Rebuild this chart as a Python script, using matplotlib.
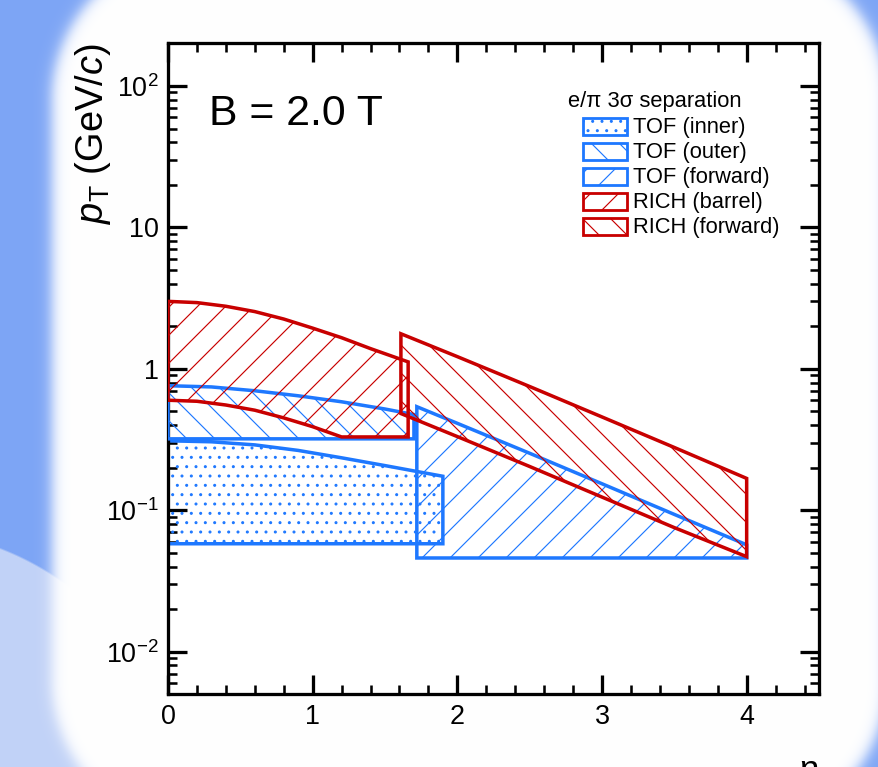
import numpy as np
import matplotlib
matplotlib.use("Agg")
import matplotlib.pyplot as plt
from matplotlib.patches import Rectangle
from matplotlib.transforms import Affine2D
from matplotlib.ticker import LogLocator, MultipleLocator, NullFormatter

plt.rcParams["font.family"] = ["Liberation Sans", "DejaVu Sans"]
plt.rcParams["mathtext.fontset"] = "custom"
plt.rcParams["mathtext.rm"] = "Liberation Sans"
plt.rcParams["mathtext.it"] = "Liberation Sans:italic"
plt.rcParams["hatch.linewidth"] = 0.5

W, H, DPI = 879, 767, 168
BLUE = "#1e78ff"; RED = "#c80000"

# band edges (eta, upper pT, lower pT)
TOF_IN_ETA = [0.0, 0.3, 0.6, 0.9, 1.2, 1.5, 1.9]
TOF_IN_HI = [0.31, 0.305, 0.29, 0.265, 0.235, 0.207, 0.174]
TOF_IN_LO = [0.058, 0.058, 0.058, 0.058, 0.058, 0.058, 0.058]

TOF_OUT_ETA = [0.0, 0.3, 0.6, 0.9, 1.2, 1.5, 1.70]
TOF_OUT_HI = [0.76, 0.745, 0.70, 0.645, 0.585, 0.52, 0.475]
TOF_OUT_LO = [0.32, 0.32, 0.32, 0.32, 0.32, 0.32, 0.32]

TOF_FWD_ETA = [1.72, 2.0, 2.5, 3.0, 3.5, 4.0]
TOF_FWD_HI = [0.54, 0.412, 0.253, 0.154, 0.0935, 0.057]
TOF_FWD_LO = [0.046, 0.046, 0.046, 0.046, 0.046, 0.046]

RICH_BAR_ETA = [0.0, 0.2, 0.4, 0.6, 0.8, 1.0, 1.2, 1.4, 1.66]
RICH_BAR_HI = [3.0, 2.94, 2.77, 2.54, 2.25, 1.94, 1.66, 1.39, 1.12]
RICH_BAR_LO = [0.60, 0.59, 0.555, 0.51, 0.45, 0.39, 0.33, 0.33, 0.33]

RICH_FWD_ETA = [1.61, 2.0, 2.5, 3.0, 3.5, 4.0]
RICH_FWD_HI = [1.77, 1.22, 0.75, 0.457, 0.278, 0.168]
RICH_FWD_LO = [0.483, 0.332, 0.204, 0.124, 0.0754, 0.047]

LEG_LABELS = ["TOF (inner)", "TOF (outer)", "TOF (forward)", "RICH (barrel)", "RICH (forward)"]
LEG_COLORS = [BLUE, BLUE, BLUE, RED, RED]
LEG_HATCH = ["...", "\\\\", "//", "//", "\\\\"]

YTICKS = [0.01, 0.1, 1, 10, 100]
YTICKLABELS = [r"$\mathregular{10^{-2}}$", r"$\mathregular{10^{-1}}$", "1", "10", r"$\mathregular{10^{2}}$"]


def background():
    yy, xx = np.mgrid[0:H, 0:W] + 0.5
    blue = np.array([125, 165, 245]) / 255; light = np.array([193, 210, 247]) / 255
    img = np.ones((H, W, 3)) * blue
    dc = np.hypot(xx + 100, yy - 810) - 280
    al = np.clip(0.5 - dc / 2, 0, 1)[..., None]
    img = img * (1 - al) + light * al
    cx, cy, hx, hy, r = 469.5, 390, 417.5, 440, 150
    qx = np.abs(xx - cx) - (hx - r); qy = np.abs(yy - cy) - (hy - r)
    d = np.hypot(np.maximum(qx, 0), np.maximum(qy, 0)) + np.minimum(np.maximum(qx, qy), 0) - r
    aw = (1 / (1 + np.exp(d / 4)))[..., None]
    return img * (1 - aw) + aw


fig = plt.figure(figsize=(W / DPI, H / DPI), dpi=DPI)
fig.figimage(background(), xo=0, yo=0, origin="upper", zorder=-5)
ax = fig.add_axes([168 / W, (H - 694.3) / H, 651 / W, 650.9 / H])
ax.set_facecolor("white")
PX = Affine2D().scale(1, -1).translate(0, H)   # image pixel coords (top-left origin)


def band(eta, hi, lo, color, hatch, z):
    xs = list(eta) + list(eta[::-1]); ys = list(hi) + list(lo[::-1])
    ax.fill(xs, ys, facecolor="none", edgecolor=color, hatch=hatch, lw=0, zorder=z)
    ax.fill(xs, ys, facecolor="none", edgecolor=color, lw=1.5, joinstyle="miter", zorder=z + 0.5)


band(TOF_IN_ETA, TOF_IN_HI, TOF_IN_LO, BLUE, "...", 2)
band(TOF_OUT_ETA, TOF_OUT_HI, TOF_OUT_LO, BLUE, "\\\\", 3)
band(TOF_FWD_ETA, TOF_FWD_HI, TOF_FWD_LO, BLUE, "//", 4)
band(RICH_BAR_ETA, RICH_BAR_HI, RICH_BAR_LO, RED, "//", 5)
band(RICH_FWD_ETA, RICH_FWD_HI, RICH_FWD_LO, RED, "\\\\", 6)

ax.set_yscale("log"); ax.set_ylim(0.005, 200); ax.set_xlim(0, 4.5)
ax.set_yticks(YTICKS, labels=YTICKLABELS)
ax.yaxis.set_minor_locator(LogLocator(base=10, subs=np.arange(2, 10), numticks=50))
ax.yaxis.set_minor_formatter(NullFormatter())
ax.xaxis.set_major_locator(MultipleLocator(1)); ax.xaxis.set_minor_locator(MultipleLocator(0.2))
ax.tick_params(which="both", direction="in", top=True, right=True, labelsize=11.5, pad=4)
ax.tick_params(which="major", length=8.1, width=1.4)
ax.tick_params(which="minor", length=3.9, width=1.1)
for s in ax.spines.values(): s.set_linewidth(1.4)

ax.set_ylabel(r"$p_{\mathrm{T}}$ (GeV/$c$)", fontsize=16.3, loc="top")
ax.yaxis.set_label_coords(-0.085, 1.0)
ax.set_xlabel("η", fontsize=15, loc="right")
ax.xaxis.set_label_coords(1.0, -0.092)

ax.text(209, 125, "B = 2.0 T", fontsize=18.3, va="baseline", transform=PX)
ax.text(568, 106.7, "e/π 3σ separation", fontsize=9.4, va="baseline", transform=PX)
for i, (lab, c, h) in enumerate(zip(LEG_LABELS, LEG_COLORS, LEG_HATCH)):
    top = 118.3 + 25 * i
    ax.add_patch(Rectangle((583, top + 17), 44, -17, facecolor="none", edgecolor=c, hatch=h,
                           lw=1.2, transform=PX, clip_on=False, zorder=10))
    ax.text(633, top + 15, lab, fontsize=9.4, va="baseline", transform=PX)

fig.savefig("out.png", dpi=DPI)
